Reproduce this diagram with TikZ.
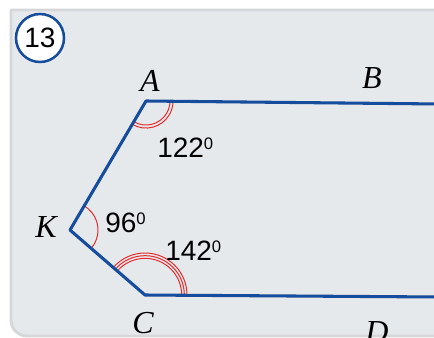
\documentclass[tikz,border=0pt]{standalone}
\usepackage{fontspec}
\setmainfont{Liberation Serif}
\newfontfamily\numfont{Liberation Sans}
\usetikzlibrary{angles}
\definecolor{panelgray}{RGB}{230,233,236}
\definecolor{panelborder}{RGB}{214,215,217}
\definecolor{lineblue}{RGB}{22,76,156}
\definecolor{arcred}{RGB}{228,45,45}
\newcommand{\degsup}[1]{{\numfont\fontsize{21}{25}\selectfont #1\raisebox{6pt}{\fontsize{12.5}{13}\selectfont 0}}}
\tikzset{
  side/.style={line width=2.3pt,lineblue},
  mark arc/.style={draw=arcred,line width=0.75pt},
  vertex/.style={font=\fontsize{24}{28}\selectfont\itshape,anchor=base,inner sep=0pt},
  measure/.style={anchor=base west,inner sep=0pt}
}
\begin{document}
\begin{tikzpicture}[x=0.75pt,y=0.75pt,line cap=round,line join=round]
  \useasboundingbox (0,0) rectangle (434,337);
  \clip (0,0) rectangle (434,337);
  % panel
  \draw[line width=2.2pt,draw=panelborder,fill=panelgray] (470,327) -- (11,327) -- (11,40) [rounded corners=12pt] -- (11,1) -- (470,1);
  % number badge
  \node[circle,draw=lineblue,line width=1.9pt,fill=white,minimum size=36pt,inner sep=0pt,font=\numfont\fontsize{21}{25}\selectfont] (badge) at (40,299) {13};
  % points
  \coordinate (A) at (146,236);
  \coordinate (B) at (440,233);
  \coordinate (K) at (70,107);
  \coordinate (C) at (145,42);
  \coordinate (D) at (440,40);
  % angle marks
  \pic[mark arc,angle radius=18pt] {angle=K--A--B};
  \pic[mark arc,angle radius=20.3pt] {angle=K--A--B};
  \pic[mark arc,angle radius=21pt] {angle=C--K--A};
  \pic[mark arc,angle radius=27.5pt] {angle=D--C--K};
  \pic[mark arc,angle radius=29.5pt] {angle=D--C--K};
  \pic[mark arc,angle radius=31.5pt] {angle=D--C--K};
  % sides
  \draw[side] (B) -- (A) -- (K) -- (C) -- (D);
  % labels
  \node[vertex] (lA) at (150,246) {A};
  \node[vertex] (lB) at (372,249) {B};
  \node[vertex] (lK) at (46,100) {K};
  \node[vertex] (lC) at (143,4) {C};
  \node[vertex] (lD) at (377,-5) {D};
  \node[measure] (mA) at (157,180) {\degsup{122}};
  \node[measure] (mK) at (105,105) {\degsup{96}};
  \node[measure] (mC) at (165,77) {\degsup{142}};
\end{tikzpicture}
\end{document}
